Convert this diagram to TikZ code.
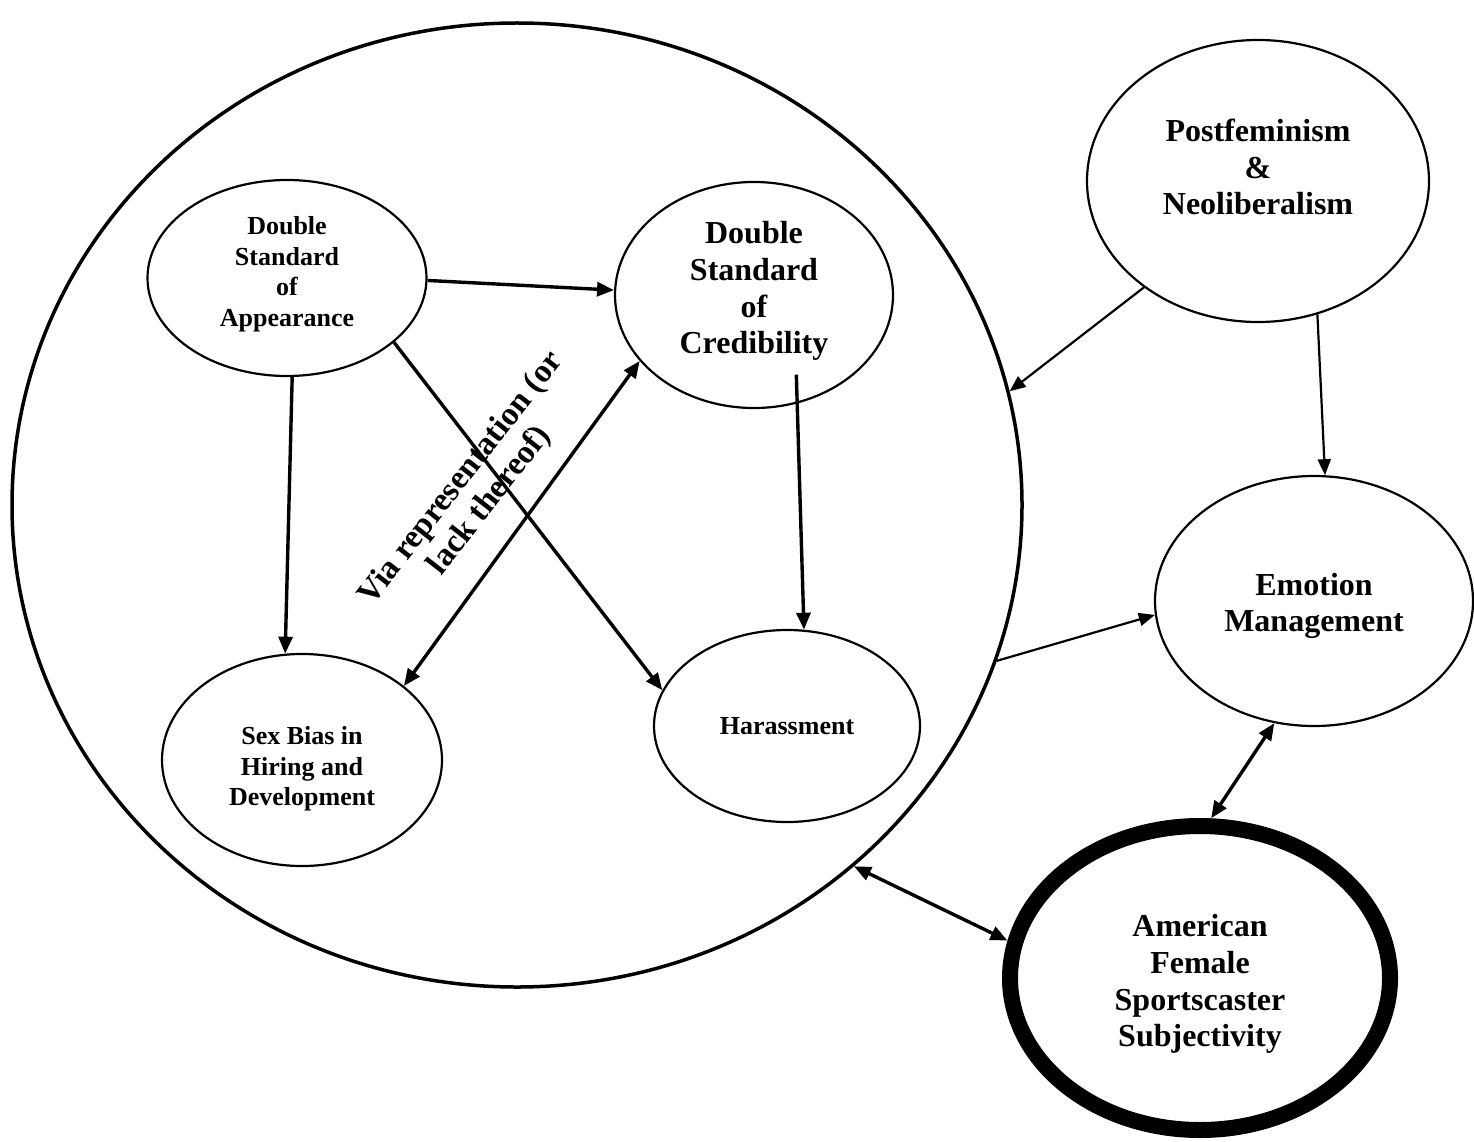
\documentclass[tikz,border=0pt]{standalone}
\usepackage{fontspec}
\setmainfont{Liberation Serif}
\usetikzlibrary{shapes.geometric,arrows.meta,calc}
\begin{document}
\begin{tikzpicture}[x=1pt,y=-1pt,
  oval/.style={draw, ellipse, line width=2.2pt, inner sep=0pt},
  smalltext/.style={font=\fontsize{26}{30.5}\selectfont\bfseries, align=center},
  largetext/.style={font=\fontsize{32}{36.8}\selectfont\bfseries, align=center},
  arr/.style={line width=3.4pt, -{Triangle[length=17pt,width=14pt]}},
  darr/.style={line width=3.4pt, {Triangle[length=17pt,width=14pt]}-{Triangle[length=17pt,width=14pt]}},
  tarr/.style={line width=2.2pt, -{Triangle[length=16pt,width=13pt]}}
]
\useasboundingbox (0,0) rectangle (1474,1142);

\node[draw, ellipse, line width=3.5pt, minimum width=1010pt, minimum height=964pt] (big) at (517,505) {};

\node[oval, minimum width=279pt, minimum height=196pt,
  label={[smalltext, yshift=4pt, name=appt]center:Double\\Standard\\of\\Appearance}] (app) at (287,278) {};
\node[oval, minimum width=278pt, minimum height=226pt,
  label={[largetext, yshift=4pt, name=credt]center:Double\\Standard\\of\\Credibility}] (cred) at (754,295) {};
\node[oval, minimum width=280pt, minimum height=212pt,
  label={[smalltext, yshift=-9pt, name=sext]center:Sex Bias in\\Hiring and\\Development}] (sex) at (302,760) {};
\node[oval, minimum width=266pt, minimum height=192pt,
  label={[smalltext, name=hart]center:Harassment}] (har) at (787,726) {};
\node[oval, minimum width=342pt, minimum height=282pt,
  label={[largetext, yshift=14pt, name=postt]center:Postfeminism\\\&\\Neoliberalism}] (post) at (1258,181) {};
\node[oval, minimum width=318pt, minimum height=250pt,
  label={[largetext, yshift=-5pt, name=emot]center:Emotion\\Management}] (emo) at (1314,601) {};
\node[oval, line width=16pt, outer sep=8pt, minimum width=380pt, minimum height=304pt,
  label={[largetext, yshift=-6pt, name=amt]center:American\\Female\\Sportscaster\\Subjectivity}] (am) at (1200,978) {};

\node[font=\fontsize{33}{36}\selectfont\bfseries, rotate=52, align=center] (via) at (476,490) {Via representation (or\\lack thereof)};

\draw[arr] (app.-1) -- (cred.178);
\draw[arr] (app.-87) -- (sex.99);
\draw[arr] (app.-31) -- (har.164);
\draw[arr] ($(cred.center)!0.76!(cred.-62)$) -- (har.80);
\draw[darr] (sex.36) -- (cred.210);
\draw[tarr] (post.-137) -- (big.13);
\draw[tarr] (post.-66) -- (emo.85);
\draw[tarr] (big.-18) -- (emo.185);
\draw[darr] (emo.-108) -- (am.86);
\draw[darr] (big.-47) -- (am.169);
\end{tikzpicture}
\end{document}
